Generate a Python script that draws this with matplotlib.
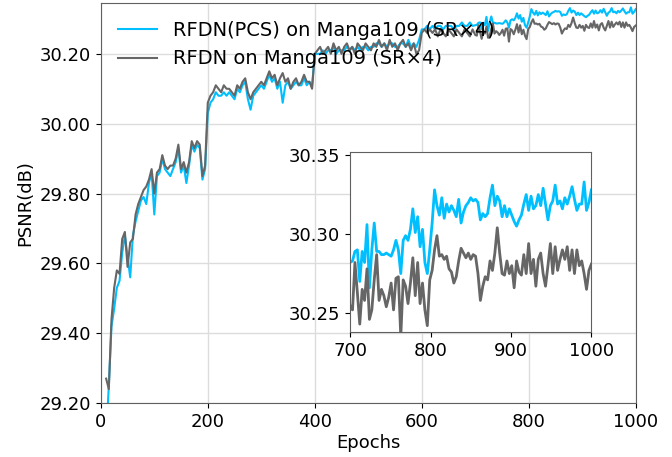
import numpy as np
import matplotlib
matplotlib.use("Agg")
import matplotlib.pyplot as plt

# ---------------- data ----------------
# epochs 10..695 step 5
epochs_a = list(range(10, 700, 5))
gray_a = [
    29.27, 29.24, 29.44, 29.53, 29.58, 29.57, 29.67, 29.69, 29.59, 29.66,   # 10-55
    29.67, 29.74, 29.77, 29.79, 29.81, 29.82, 29.84, 29.87, 29.80, 29.86,   # 60-105
    29.87, 29.91, 29.88, 29.87, 29.88, 29.88, 29.90, 29.94, 29.87, 29.89,   # 110-155
    29.86, 29.89, 29.95, 29.93, 29.95, 29.94, 29.85, 29.88, 30.06, 30.08,   # 160-205
    30.09, 30.11, 30.10, 30.09, 30.11, 30.10, 30.10, 30.09, 30.08, 30.11,   # 210-255
    30.10, 30.12, 30.13, 30.09, 30.07, 30.09, 30.10, 30.11, 30.12, 30.11,   # 260-305
    30.13, 30.15, 30.13, 30.14, 30.11, 30.13, 30.145, 30.12, 30.13, 30.10,  # 310-355
    30.12, 30.13, 30.11, 30.12, 30.14, 30.12, 30.12, 30.10, 30.20, 30.21,   # 360-405
    30.22, 30.20, 30.21, 30.22, 30.20, 30.23, 30.21, 30.22, 30.20, 30.22,   # 410-455
    30.23, 30.21, 30.22, 30.20, 30.23, 30.22, 30.21, 30.23, 30.22, 30.21,   # 460-505
    30.23, 30.22, 30.24, 30.22, 30.23, 30.21, 30.24, 30.22, 30.23, 30.21,   # 510-555
    30.23, 30.24, 30.22, 30.23, 30.21, 30.23, 30.20, 30.21, 30.26, 30.27,   # 560-605
    30.26, 30.27, 30.26, 30.27, 30.25, 30.27, 30.26, 30.25, 30.27, 30.26,   # 610-655
    30.25, 30.27, 30.26, 30.25, 30.27, 30.26, 30.25, 30.27,                 # 660-695
]
blue_a = [
    29.10, 29.25, 29.42, 29.47, 29.53, 29.55, 29.63, 29.68, 29.62, 29.56,   # 10-55
    29.68, 29.72, 29.75, 29.78, 29.79, 29.77, 29.83, 29.86, 29.74, 29.85,   # 60-105
    29.86, 29.90, 29.87, 29.86, 29.85, 29.87, 29.89, 29.93, 29.86, 29.88,   # 110-155
    29.83, 29.88, 29.94, 29.92, 29.94, 29.93, 29.84, 29.87, 30.03, 30.06,   # 160-205
    30.07, 30.09, 30.08, 30.08, 30.09, 30.08, 30.09, 30.08, 30.07, 30.10,   # 210-255
    30.09, 30.11, 30.12, 30.07, 30.04, 30.08, 30.09, 30.10, 30.11, 30.10,   # 260-305
    30.12, 30.14, 30.12, 30.13, 30.10, 30.12, 30.06, 30.11, 30.12, 30.10,   # 310-355
    30.11, 30.12, 30.11, 30.11, 30.13, 30.11, 30.12, 30.11, 30.20, 30.20,   # 360-405
    30.20, 30.21, 30.20, 30.21, 30.21, 30.22, 30.20, 30.21, 30.21, 30.21,   # 410-455
    30.22, 30.21, 30.22, 30.21, 30.22, 30.21, 30.22, 30.22, 30.21, 30.22,   # 460-505
    30.22, 30.23, 30.23, 30.22, 30.23, 30.22, 30.23, 30.23, 30.22, 30.22,   # 510-555
    30.23, 30.23, 30.22, 30.24, 30.22, 30.23, 30.22, 30.24, 30.27, 30.27,   # 560-605
    30.28, 30.27, 30.28, 30.27, 30.28, 30.28, 30.27, 30.28, 30.28, 30.28,   # 610-655
    30.27, 30.28, 30.28, 30.29, 30.28, 30.28, 30.29, 30.28,                 # 660-695
]
# epochs 700..1000 step 3
epochs_b = list(range(700, 1001, 3))
blue_b = [
    30.282, 30.283, 30.289, 30.290, 30.270, 30.289, 30.282, 30.306, 30.266, 30.290,
    30.307, 30.289, 30.289, 30.287, 30.287, 30.288, 30.287, 30.286, 30.290, 30.296,
    30.290, 30.275, 30.296, 30.299, 30.296, 30.303, 30.316, 30.301, 30.311, 30.292,
    30.303, 30.282, 30.275, 30.290, 30.307, 30.328, 30.318, 30.312, 30.323, 30.310,
    30.319, 30.314, 30.318, 30.315, 30.311, 30.322, 30.307, 30.314, 30.318, 30.320,
    30.323, 30.321, 30.322, 30.320, 30.309, 30.313, 30.311, 30.313, 30.323, 30.331,
    30.318, 30.324, 30.321, 30.311, 30.318, 30.311, 30.316, 30.312, 30.308, 30.305,
    30.309, 30.312, 30.319, 30.325, 30.315, 30.324, 30.316, 30.318, 30.325, 30.318,
    30.329, 30.319, 30.309, 30.318, 30.321, 30.331, 30.319, 30.321, 30.316, 30.323,
    30.319, 30.324, 30.330, 30.322, 30.315, 30.319, 30.319, 30.333, 30.315, 30.320,
    30.328,
]
gray_b = [
    30.254, 30.252, 30.282, 30.263, 30.243, 30.265, 30.258, 30.278, 30.246, 30.252,
    30.271, 30.287, 30.258, 30.265, 30.261, 30.254, 30.260, 30.269, 30.252, 30.272,
    30.273, 30.235, 30.271, 30.267, 30.256, 30.269, 30.285, 30.261, 30.282, 30.256,
    30.269, 30.252, 30.242, 30.271, 30.277, 30.290, 30.299, 30.286, 30.287, 30.284,
    30.286, 30.278, 30.276, 30.269, 30.273, 30.283, 30.291, 30.288, 30.285, 30.288,
    30.284, 30.287, 30.286, 30.275, 30.258, 30.267, 30.273, 30.271, 30.283, 30.277,
    30.288, 30.304, 30.288, 30.275, 30.274, 30.283, 30.275, 30.280, 30.266, 30.283,
    30.276, 30.274, 30.287, 30.275, 30.294, 30.275, 30.284, 30.267, 30.284, 30.288,
    30.275, 30.267, 30.280, 30.294, 30.275, 30.292, 30.277, 30.284, 30.290, 30.284,
    30.292, 30.277, 30.290, 30.275, 30.290, 30.280, 30.283, 30.275, 30.265, 30.277,
    30.281,
]

epochs = np.array(epochs_a + epochs_b)
psnr_pcs = np.array(blue_a + blue_b)
psnr_base = np.array(gray_a + gray_b)

label_pcs = "RFDN(PCS) on Manga109 (SR×4)"
label_base = "RFDN on Manga109 (SR×4)"
c_pcs = "#00BFFF"
c_base = "#666666"
spine_c = "#606060"

main_yticks = [29.20, 29.40, 29.60, 29.80, 30.00, 30.20]
main_xticks = [0, 200, 400, 600, 800, 1000]
inset_yticks = [30.25, 30.30, 30.35]
inset_xticks = [700, 800, 900, 1000]

# ---------------- plot ----------------
plt.rcParams['font.family'] = ['DejaVu Sans']
fs = 13
fig = plt.figure(figsize=(6.72, 4.57), dpi=100)
ax = fig.add_axes([0.150, 0.118, 0.796, 0.875])
ax.plot(epochs, psnr_pcs, color=c_pcs, lw=1.5, label=label_pcs)
ax.plot(epochs, psnr_base, color=c_base, lw=1.5, label=label_base)
ax.set_xlim(0, 1000)
ax.set_ylim(29.2, 30.345)
ax.set_xticks(main_xticks)
ax.set_yticks(main_yticks)
ax.set_yticklabels([f"{v:.2f}" for v in main_yticks])
ax.tick_params(labelsize=fs)
ax.grid(True, color="#dcdcdc", lw=1)
ax.set_axisbelow(True)
ax.set_xlabel("Epochs", fontsize=fs, labelpad=2)
ax.set_ylabel("PSNR(dB)", fontsize=fs)
for s in ax.spines.values():
    s.set_color(spine_c)
ax.legend(loc="upper left", frameon=False, fontsize=14)

ins = fig.add_axes([0.521, 0.2735, 0.359, 0.394])
ins.plot(epochs, psnr_pcs, color=c_pcs, lw=2)
ins.plot(epochs, psnr_base, color=c_base, lw=2)
ins.set_xlim(700, 1000)
ins.set_ylim(30.238, 30.352)
ins.set_xticks(inset_xticks)
ins.set_yticks(inset_yticks)
ins.set_yticklabels([f"{v:.2f}" for v in inset_yticks])
ins.tick_params(labelsize=fs)
ins.set_facecolor("white")
for s in ins.spines.values():
    s.set_color(spine_c)

fig.savefig("out.png", dpi=100)
